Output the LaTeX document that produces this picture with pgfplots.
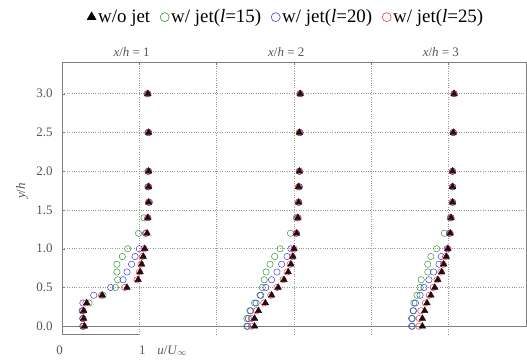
\documentclass[border=0pt]{standalone}
\usepackage{pgfplots}
\pgfplotsset{compat=1.18}
\usepackage{pgfplotstable}
\usepackage{fontspec}
\setmainfont{Liberation Serif}
\definecolor{cg}{RGB}{50,150,50}
\definecolor{cb}{RGB}{60,60,230}
\definecolor{cr}{RGB}{235,60,60}
\definecolor{tri}{RGB}{35,10,20}
\definecolor{axgray}{RGB}{125,125,125}
\definecolor{txtgray}{RGB}{85,85,85}

% u/U_inf for stations x/h = 1 (s1), 2 (s2), 3 (s3)
\pgfplotstableread{
y s1 s2 s3
0.0 0.29 0.49 0.66
0.1 0.28 0.49 0.66
0.2 0.28 0.54 0.69
0.3 0.32 0.63 0.72
0.4 0.52 0.71 0.77
0.5 0.84 0.795 0.82
0.6 0.985 0.87 0.86
0.7 1.01 0.925 0.91
0.8 1.03 0.96 0.935
0.9 1.05 0.985 0.97
1.0 1.07 1.00 0.99
1.2 1.10 1.035 1.02
1.4 1.11 1.05 1.03
1.6 1.12 1.06 1.05
1.8 1.12 1.06 1.05
2.0 1.12 1.07 1.05
2.5 1.12 1.07 1.06
3.0 1.11 1.08 1.07
}\tabTri
\pgfplotstableread{
y s1 s2 s3
0.0 0.27 0.39 0.53
0.1 0.27 0.39 0.53
0.2 0.27 0.43 0.54
0.3 0.35 0.49 0.55
0.4 0.53 0.56 0.59
0.5 0.69 0.59 0.63
0.6 0.72 0.615 0.645
0.7 0.71 0.64 0.73
0.8 0.71 0.69 0.73
0.9 0.78 0.75 0.77
1.0 0.85 0.82 0.845
1.2 0.99 0.955 0.945
1.4 1.06 1.03 1.02
1.6 1.12 1.06 1.05
1.8 1.11 1.06 1.05
2.0 1.11 1.07 1.05
2.5 1.11 1.07 1.06
3.0 1.10 1.08 1.07
}\tabG
\pgfplotstableread{
y s1 s2 s3
0.0 0.27 0.40 0.52
0.1 0.27 0.41 0.52
0.2 0.26 0.44 0.545
0.3 0.27 0.51 0.57
0.4 0.41 0.57 0.63
0.5 0.63 0.635 0.68
0.6 0.79 0.71 0.745
0.7 0.84 0.78 0.805
0.8 0.90 0.84 0.875
0.9 0.945 0.91 0.905
1.0 1.00 0.96 0.98
1.2 1.08 1.03 1.01
1.4 1.11 1.05 1.03
1.6 1.13 1.06 1.05
1.8 1.12 1.07 1.05
2.0 1.12 1.07 1.05
2.5 1.12 1.08 1.06
3.0 1.11 1.08 1.07
}\tabB
\pgfplotstableread{
y s1 s2 s3
0.0 0.28 0.45 0.615
0.1 0.27 0.45 0.62
0.2 0.27 0.515 0.64
0.3 0.31 0.61 0.70
0.4 0.51 0.70 0.75
0.5 0.81 0.78 0.80
0.6 0.97 0.86 0.85
0.7 1.00 0.91 0.90
0.8 1.02 0.95 0.93
0.9 1.04 0.98 0.96
1.0 1.06 1.00 0.99
1.2 1.09 1.03 1.02
1.4 1.11 1.05 1.03
1.6 1.12 1.06 1.05
1.8 1.12 1.06 1.05
2.0 1.12 1.07 1.05
2.5 1.12 1.07 1.06
3.0 1.11 1.08 1.07
}\tabR

\pgfplotsset{
  circ/.style={forget plot, only marks, mark=o, mark size=3.2pt, draw=#1, line width=0.5pt},
  trim/.style={forget plot, only marks, mark=triangle*, mark size=3.8pt, draw=tri, fill=tri},
}

\begin{document}
\begin{tikzpicture}
\useasboundingbox (-62bp,-26bp) rectangle (465bp,334bp);
\begin{axis}[
  at={(0,0)}, anchor=south west,
  scale only axis, width=464bp, height=272bp,
  xmin=0, xmax=6, ymin=-0.1, ymax=3.41,
  clip=false,
  axis line style={draw=none},
  xtick={1,2,3,4,5}, xticklabels={},
  xtick pos=right, ytick pos=left,
  ytick={0,0.5,1,1.5,2,2.5,3},
  yticklabels={0.0,0.5,1.0,1.5,2.0,2.5,3.0},
  tick align=inside, major tick length=3bp,
  major tick style={axgray, line width=0.5pt},
  grid=major, major grid style={dotted, axgray!80, line width=0.6pt},
  ticklabel style={font=\fontsize{13}{15}\selectfont, text=txtgray},
  yticklabel style={xshift=-6bp},
  legend style={at={(axis description cs:0.482,1.165)}, anchor=center,
    draw=none, fill=none, legend columns=4, inner sep=0pt,
    font=\fontsize{19}{23}\selectfont,
    nodes={inner sep=1bp},
    /tikz/every odd column/.append style={column sep=1bp},
    /tikz/every even column/.append style={column sep=9bp}},
  legend image code/.code={\draw[#1] plot coordinates {(0bp,0bp)};},
]
% circles: l=15 (green), l=20 (blue), l=25 (red)
\addplot[circ=cg] table[x=s1, y=y] {\tabG};
\addplot[circ=cg] table[x expr=\thisrow{s2}+2, y=y] {\tabG};
\addplot[circ=cg] table[x expr=\thisrow{s3}+4, y=y] {\tabG};
\addplot[circ=cb] table[x=s1, y=y] {\tabB};
\addplot[circ=cb] table[x expr=\thisrow{s2}+2, y=y] {\tabB};
\addplot[circ=cb] table[x expr=\thisrow{s3}+4, y=y] {\tabB};
\addplot[circ=cr] table[x=s1, y=y] {\tabR};
\addplot[circ=cr] table[x expr=\thisrow{s2}+2, y=y] {\tabR};
\addplot[circ=cr] table[x expr=\thisrow{s3}+4, y=y] {\tabR};
% triangles: w/o jet
\addplot[trim] table[x=s1, y=y] {\tabTri};
\addplot[trim] table[x expr=\thisrow{s2}+2, y=y] {\tabTri};
\addplot[trim] table[x expr=\thisrow{s3}+4, y=y] {\tabTri};

\addlegendimage{only marks, mark=triangle*, mark size=5.3pt, draw=black, fill=black}
\addlegendentry{w/o jet}
\addlegendimage{only marks, mark=o, mark size=4.5pt, draw=cg, line width=0.6pt}
\addlegendentry{w/ jet(\textit{l}=15)}
\addlegendimage{only marks, mark=o, mark size=4.5pt, draw=cb, line width=0.6pt}
\addlegendentry{w/ jet(\textit{l}=20)}
\addlegendimage{only marks, mark=o, mark size=4.5pt, draw=cr, line width=0.6pt}
\addlegendentry{w/ jet(\textit{l}=25)}

% frame
\draw[axgray, line width=0.6pt] (axis cs:0,-0.1) -- (axis cs:0,3.41) -- (axis cs:6,3.41) -- (axis cs:6,0);
\draw[axgray, line width=0.6pt] (axis cs:0,0) -- (axis cs:6,0);
\draw[axgray, line width=0.6pt] (axis cs:0,-0.1) -- (axis cs:1,-0.1);

% station titles
\node[anchor=base, text=txtgray, font=\fontsize{13}{15}\selectfont, inner sep=0pt]
  at ([yshift=5bp]axis cs:0.9,3.41) {\textit{x}/\textit{h} = 1};
\node[anchor=base, text=txtgray, font=\fontsize{13}{15}\selectfont, inner sep=0pt]
  at ([yshift=5bp]axis cs:2.9,3.41) {\textit{x}/\textit{h} = 2};
\node[anchor=base, text=txtgray, font=\fontsize{13}{15}\selectfont, inner sep=0pt]
  at ([yshift=5bp]axis cs:4.9,3.41) {\textit{x}/\textit{h} = 3};
% scale bar labels
\node[anchor=base, text=txtgray, font=\fontsize{13}{15}\selectfont, inner sep=0pt]
  at ([yshift=-20bp]axis cs:-0.03,-0.1) {0};
\node[anchor=base, text=txtgray, font=\fontsize{13}{15}\selectfont, inner sep=0pt]
  at ([yshift=-20bp]axis cs:1.04,-0.1) {1};
\node[anchor=base west, text=txtgray, font=\fontsize{13}{15}\selectfont, inner sep=0pt]
  at ([yshift=-20bp]axis cs:1.23,-0.1) {\textit{u}/\textit{U}\textsubscript{$\infty$}};
% y label
\node[rotate=90, text=txtgray, font=\fontsize{13}{15}\selectfont, inner sep=0pt]
  at (axis description cs:-0.086,0.526) {\textit{y}/\textit{h}};
\end{axis}
\end{tikzpicture}
\end{document}
